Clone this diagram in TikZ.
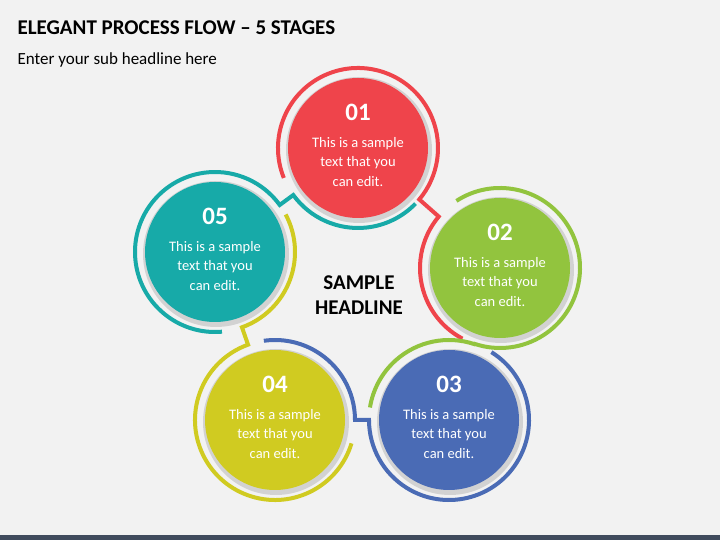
\documentclass[tikz,border=0pt]{standalone}
\usepackage{fontspec}
\setmainfont{Carlito}
\usetikzlibrary{calc}
\definecolor{cred}{HTML}{EF444B}
\definecolor{cgreen}{HTML}{92C43E}
\definecolor{cblue}{HTML}{4A6BB5}
\definecolor{cyel}{HTML}{D0CB21}
\definecolor{cteal}{HTML}{17AAA8}
\definecolor{bg}{HTML}{F2F2F2}
\definecolor{bar}{HTML}{404B5D}
\begin{document}
\begin{tikzpicture}[x=1pt,y=1pt,
  disc/.style={circle,minimum size=140pt,inner sep=0pt,fill=#1,text=white,align=center},
  ring/.style={draw=#1,line width=4pt},
  shade/.style={fill=black,opacity=0.13}]
\fill[bg] (0,0) rectangle (720,540);
\useasboundingbox (0,0) rectangle (720,540);
\fill[bar] (0,0) rectangle (720,5);
\node[anchor=west,font=\bfseries\fontsize{21}{24}\selectfont] (title) at (14,512) {ELEGANT PROCESS FLOW – 5 STAGES};
\node[anchor=west,font=\fontsize{17}{20}\selectfont] (sub) at (14,480) {Enter your sub headline here};
\node[align=center,font=\bfseries\fontsize{21}{25}\selectfont] (head) at (359,245) {SAMPLE\\HEADLINE};
% shadows
\foreach \p in {(358,392),(500,272),(449,120),(275,120),(215,288)}
  \fill[shade] \p ++(1,-2) circle (73);
\node[disc=cred]   (c1) at (358,392) {};
\node[disc=cgreen] (c2) at (500,272) {};
\node[disc=cblue]  (c3) at (449,120) {};
\node[disc=cyel]   (c4) at (275,120) {};
\node[disc=cteal]  (c5) at (215,288) {};
\foreach \c/\n in {c1/01,c2/02,c3/03,c4/04,c5/05}{
  \node[text=white,font=\bfseries\fontsize{25}{28}\selectfont] (\c n) at ($(\c.center)+(0,36)$) {\n};
  \node[text=white,align=center,font=\fontsize{14.5}{19.5}\selectfont] (\c t) at ($(\c.center)+(0,-14)$) {This is a sample\\text that you\\can edit.};
}
% rings
\draw[ring=cred] ($(c1.center)+(202:80)$) arc[start angle=202,end angle=-40,radius=80]
  -- ($(c2.center)+(140:80)$) arc[start angle=140,end angle=242,radius=80];
\draw[ring=cgreen] ($(c2.center)+(123:80)$) arc[start angle=123,end angle=-108.5,radius=80]
  -- ($(c3.center)+(71.5:80)$) arc[start angle=71.5,end angle=171,radius=80];
\draw[ring=cblue] ($(c3.center)+(58:80)$) arc[start angle=58,end angle=-180,radius=80]
  -- ($(c4.center)+(0:80)$) arc[start angle=0,end angle=98,radius=80];
\draw[ring=cyel] ($(c4.center)+(343:80)$) arc[start angle=343,end angle=109.7,radius=80]
  -- ($(c5.center)+(289.7:80)$) arc[start angle=289.7,end angle=388,radius=80];
\draw[ring=cteal] ($(c5.center)+(275:80)$) arc[start angle=275,end angle=36,radius=80]
  -- ($(c1.center)+(216:80)$) arc[start angle=216,end angle=316,radius=80];
\end{tikzpicture}
\end{document}
